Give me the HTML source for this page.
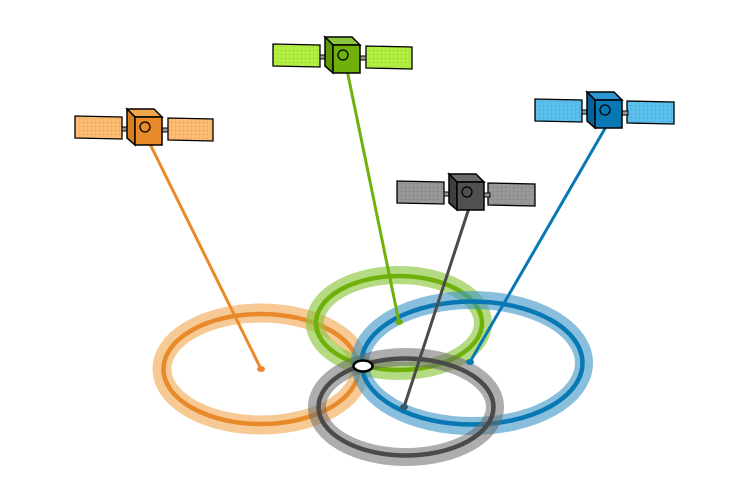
<!DOCTYPE html>
<html><head><style>html,body{margin:0;padding:0;background:#fff}svg{display:block}</style></head>
<body>
<svg width="750" height="500" viewBox="0 0 750 500" xmlns="http://www.w3.org/2000/svg">
<defs>
<pattern id="grid" width="4" height="4" patternUnits="userSpaceOnUse"><path d="M4 0V4M0 4H4" stroke="#000" stroke-opacity="0.18" stroke-width="0.6" fill="none"/></pattern>
<g id="sat">
  <rect x="-26" y="-4" width="8" height="4" fill="#999" stroke="#000" stroke-width="1"/>
  <rect x="14" y="-3" width="6" height="4" fill="#999" stroke="#000" stroke-width="1"/>
  <path d="M-13,-14 L-21,-22 L6,-22 L14,-14 Z" fill="var(--top)" stroke="#000" stroke-width="1.5"/>
  <path d="M-13,-14 L-21,-22 L-21,7 L-13,14 Z" fill="var(--side)" stroke="#000" stroke-width="1.5"/>
  <rect x="-13" y="-14" width="27" height="28" fill="var(--face)" stroke="#000" stroke-width="1.5"/>
  <circle cx="-3" cy="-4" r="5" fill="none" stroke="#000" stroke-width="1.3"/>
</g>
</defs>

<g fill="none">
  <ellipse cx="261" cy="369" rx="99" ry="56" stroke="#f0a54e" stroke-opacity="0.6" stroke-width="19"/>
  <ellipse cx="261" cy="369" rx="97.5" ry="55" stroke="#e8892a" stroke-width="4.5"/>
  <ellipse cx="399" cy="323" rx="84" ry="48" stroke="#8cc63f" stroke-opacity="0.65" stroke-width="18"/>
  <ellipse cx="399" cy="323" rx="83" ry="47" stroke="#6fb10a" stroke-width="4.5"/>
  <ellipse cx="472" cy="363" rx="112" ry="63" stroke="#3a94c6" stroke-opacity="0.6" stroke-width="18"/>
  <ellipse cx="472" cy="363" rx="110.5" ry="61.5" stroke="#0878b4" stroke-width="4.5"/>
  <ellipse cx="406" cy="407" rx="89" ry="50" stroke="#6a6a6a" stroke-opacity="0.55" stroke-width="18"/>
  <ellipse cx="406" cy="407" rx="87.5" ry="48.5" stroke="#4a4a4a" stroke-width="4.5"/>
</g>

<g stroke-width="3" stroke-linecap="round">
  <line x1="148" y1="140" x2="261" y2="369" stroke="#e8892a"/>
  <line x1="347" y1="70" x2="399" y2="322" stroke="#6fb10a"/>
  <line x1="470" y1="205" x2="404" y2="407" stroke="#4a4a4a"/>
  <line x1="607" y1="125" x2="470" y2="362" stroke="#0878b4"/>
</g>
<ellipse cx="261" cy="369" rx="4" ry="3" fill="#e8892a"/>
<ellipse cx="399" cy="322" rx="4" ry="3" fill="#6fb10a"/>
<ellipse cx="470" cy="362" rx="4" ry="3" fill="#0878b4"/>
<ellipse cx="404" cy="407" rx="4" ry="3" fill="#3a5a6a"/>

<ellipse cx="363" cy="366" rx="9.5" ry="5.5" fill="#fff" stroke="#000" stroke-width="2.5"/>

<g transform="translate(148,131)" style="--top:#f0a54e;--side:#d97e1c;--face:#e8892a">
  <path d="M-73,-15 L-26,-14 L-26,8 L-73,7 Z" fill="#ffbe73" stroke="#000" stroke-width="1.3"/>
  <path d="M-73,-15 L-26,-14 L-26,8 L-73,7 Z" fill="url(#grid)"/>
  <path d="M20,-13 L65,-12 L65,10 L20,9 Z" fill="#ffbe73" stroke="#000" stroke-width="1.3"/>
  <path d="M20,-13 L65,-12 L65,10 L20,9 Z" fill="url(#grid)"/>
  <use href="#sat"/>
</g>
<g transform="translate(346,59)" style="--top:#8cc63f;--side:#5f9a08;--face:#6fb10a">
  <path d="M-73,-15 L-26,-14 L-26,8 L-73,7 Z" fill="#b5f045" stroke="#000" stroke-width="1.3"/>
  <path d="M-73,-15 L-26,-14 L-26,8 L-73,7 Z" fill="url(#grid)"/>
  <path d="M20,-13 L66,-12 L66,10 L20,9 Z" fill="#b5f045" stroke="#000" stroke-width="1.3"/>
  <path d="M20,-13 L66,-12 L66,10 L20,9 Z" fill="url(#grid)"/>
  <use href="#sat"/>
</g>
<g transform="translate(470,196)" style="--top:#6a6a6a;--side:#3e3e3e;--face:#505050">
  <path d="M-73,-15 L-26,-14 L-26,8 L-73,7 Z" fill="#999" stroke="#000" stroke-width="1.3"/>
  <path d="M-73,-15 L-26,-14 L-26,8 L-73,7 Z" fill="url(#grid)"/>
  <path d="M18,-13 L65,-12 L65,10 L18,9 Z" fill="#999" stroke="#000" stroke-width="1.3"/>
  <path d="M18,-13 L65,-12 L65,10 L18,9 Z" fill="url(#grid)"/>
  <use href="#sat"/>
</g>
<g transform="translate(608,114)" style="--top:#2f95cf;--side:#06629a;--face:#0878b4">
  <path d="M-73,-15 L-26,-14 L-26,8 L-73,7 Z" fill="#5cc0ee" stroke="#000" stroke-width="1.3"/>
  <path d="M-73,-15 L-26,-14 L-26,8 L-73,7 Z" fill="url(#grid)"/>
  <path d="M19,-13 L66,-12 L66,10 L19,9 Z" fill="#5cc0ee" stroke="#000" stroke-width="1.3"/>
  <path d="M19,-13 L66,-12 L66,10 L19,9 Z" fill="url(#grid)"/>
  <use href="#sat"/>
</g>
</svg>
</body></html>
